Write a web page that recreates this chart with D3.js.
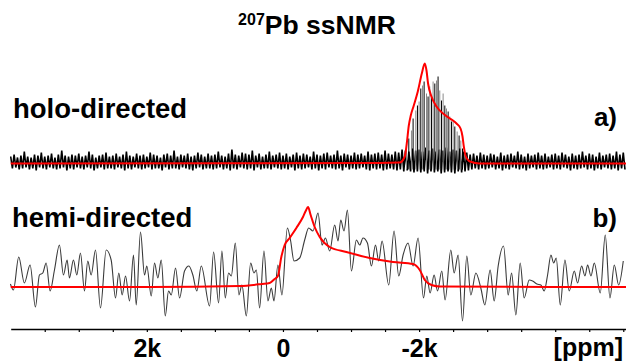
<!DOCTYPE html>
<html>
<head>
<meta charset="utf-8">
<script src="https://cdn.jsdelivr.net/npm/d3@7/dist/d3.min.js"></script>
<style>
  body { margin: 0; background: #fff; }
  text { font-family: "Liberation Sans", Arial, sans-serif; font-weight: bold; fill: #000; }
</style>
</head>
<body>
<svg id="chart" width="626" height="362"></svg>
<script>
// ---- data (ppm on x, intensity in arbitrary units above baseline) ----
// a) holo-directed : noise envelope sampled every 50 ppm from 4000 to -5000
const noiseHiA = [
  7,9,6,8,12,7,6,9,8,11,7,8,10,6,9,13,8,7,9,8,
  10,7,8,12,9,6,8,9,11,7,8,10,7,9,12,8,7,10,8,9,
  7,11,9,8,6,9,10,8,13,7,9,8,10,7,8,11,9,7,10,8,
  9,12,8,7,10,14,9,8,11,10,9,13,8,10,7,9,12,8,9,11,
  8,10,7,9,11,8,10,9,7,12,9,8,10,11,8,9,13,8,10,9,
  8,11,9,10,8,12,9,10,11,9,13,10,9,12,11,14,13,12,15,13,
  14,12,16,13,15,12,14,13,16,12,14,13,15,12,11,9,10,8,11,9,
  8,10,9,7,11,8,9,10,8,12,9,7,10,8,9,11,8,10,7,9,
  10,8,11,9,7,10,8,9,12,8,10,9,7,11,8,9,10,8,12,9,11];
const noiseLoA = [
  -5,-4,-6,-5,-4,-6,-5,-7,-4,-5,-6,-4,-5,-6,-5,-4,-7,-5,-6,-4,
  -5,-6,-4,-5,-7,-5,-4,-6,-5,-5,-6,-4,-5,-7,-5,-6,-4,-5,-6,-5,
  -4,-6,-5,-5,-7,-4,-6,-5,-5,-6,-4,-5,-6,-7,-5,-4,-6,-5,-5,-6,
  -5,-4,-6,-5,-7,-5,-6,-4,-5,-6,-5,-7,-4,-6,-5,-5,-6,-4,-5,-6,
  -5,-6,-4,-7,-5,-6,-5,-4,-6,-5,-7,-5,-6,-4,-5,-6,-5,-7,-4,-6,
  -5,-6,-5,-4,-6,-7,-5,-6,-5,-7,-6,-5,-6,-7,-6,-8,-7,-8,-9,-8,
  -9,-8,-10,-8,-9,-8,-10,-9,-8,-9,-10,-8,-9,-8,-7,-6,-5,-6,-5,-6,
  -5,-4,-6,-5,-7,-5,-6,-4,-5,-6,-5,-7,-5,-4,-6,-5,-6,-5,-4,-6,
  -5,-6,-4,-5,-7,-5,-6,-5,-4,-6,-5,-7,-5,-6,-4,-5,-6,-5,-7,-5,-6];
const noisePpmA = d3.range(4000, -5001, -50);

// a) sharp lines inside the powder pattern
const stickPpm = [-1815,-1849,-1888,-1912,-1952,-1976,-2000,-2025,-2050,-2074,-2109,-2132,-2157,-2182,-2206,-2231,
  -2256,-2279,-2304,-2329,-2353,-2378,-2403,-2427,-2451,-2476,-2500,-2525,-2559,-2588,-2613,-2638];
const stickInt = [13,25,33,45,53,58,62,75,78,82,70,67,77,68,82,80,83,87,73,63,70,58,55,52,47,42,42,37,32,28,23,15];

// a) simulated line shape (red)
const simPpmA = [4000,-1400,-1716,-1790,-1819,-1849,-1878,-1922,-1981,-2040,-2084,-2109,-2132,-2182,-2256,-2353,-2453,-2550,-2609,-2638,-2657,-2687,-2746,-2893,-5040];
const simIntA = [0,0.5,1,7,20,38,48,58,72,90,100,93,80,67,57,50,45,40,35,27,17,7,2,0,0];

// b) hemi-directed : measured spectrum
const expPpmB = [4004,3960,3882,3799,3715,3637,3578,3529,3479,3421,3357,3284,3225,3171,3137,3078,3029,2975,2916,2868,
  2818,2754,2681,2597,2524,2460,2412,2362,2313,2254,2196,2156,2093,2034,2000,1935,1887,1838,1788,1729,
  1681,1641,1578,1519,1446,1382,1324,1265,1200,1078,1019,946,897,847,799,759,700,647,603,538,
  475,426,391,343,279,221,171,132,74,15,-65,-113,-162,-246,-319,-378,-441,-515,-574,-624,
  -687,-760,-809,-849,-897,-947,-1006,-1079,-1128,-1176,-1241,-1300,-1359,-1407,-1456,-1554,-1632,-1701,-1765,-1838,
  -1912,-1985,-2065,-2113,-2162,-2221,-2271,-2334,-2382,-2466,-2515,-2574,-2638,-2701,-2760,-2834,-2907,-2966,-3044,-3103,
  -3162,-3241,-3309,-3359,-3422,-3485,-3544,-3618,-3668,-3731,-3790,-3838,-3888,-3937,-3977,-4015,-4074,-4143,-4206,-4280,
  -4329,-4388,-4437,-4476,-4525,-4574,-4662,-4735,-4804,-4868,-4932,-5000];
const expIntB = [3,-3,30,4,22,-20,12,14,24,-4,17,42,12,27,9,27,12,34,-4,26,
  12,37,-21,37,27,-11,14,-8,11,-14,32,-18,55,12,21,-9,24,9,27,-29,
  -4,-8,19,-11,16,21,12,-4,21,-19,35,-16,36,-11,14,11,44,-8,2,-29,
  24,14,17,-21,36,-14,-1,-14,22,-8,59,46,26,29,47,59,56,74,42,49,
  36,62,46,67,56,77,16,47,42,49,44,21,42,26,46,2,56,11,32,44,
  21,49,-11,11,-6,12,-4,16,-13,37,14,32,-34,31,-8,14,-1,-18,17,-14,
  21,41,-8,14,-28,24,-11,7,6,3,2,-4,12,32,24,29,-18,27,-4,16,
  4,21,11,22,11,24,-6,52,-11,22,2,26];

// b) simulated line shape (red)
const simPpmB = [4000,1960,637,313,196,122,74,24,-25,-98,-197,-294,-334,-368,-407,-466,-540,-687,-932,-1275,-1618,-1912,-2010,-2084,-2182,-2304,-5040];
const simIntB = [0,0,1,3,4,8,11,30,42,49,59,70,76,80,72,60,50,40,35,29,25,23,17,7,2,0.5,0];

const axisTicks = d3.range(3500, -5001, -500);
const tickLabels = { "2000": "2k", "0": "0", "-2000": "-2k" };

// ---- drawing ----
const svg = d3.select("#chart");
svg.append("rect").attr("width", 626).attr("height", 362).attr("fill", "#fff");

const x = d3.scaleLinear().domain([4000, -5040]).range([10.7, 626]);
const yA = d3.scaleLinear().domain([0, 100]).range([163.5, 63.5]);
const yB = d3.scaleLinear().domain([0, 100]).range([287, 187]);

// title
const title = svg.append("text").attr("x", 317).attr("y", 34).attr("text-anchor", "middle");
title.append("tspan").attr("font-size", 16).attr("dy", -9).text("207");
title.append("tspan").attr("font-size", 26.5).attr("dy", 9).text("Pb ssNMR");

// panel labels
svg.append("text").attr("x", 13).attr("y", 118).attr("font-size", 27.5).text("holo-directed");
svg.append("text").attr("x", 617).attr("y", 126).attr("font-size", 26).attr("text-anchor", "end").text("a)");
svg.append("text").attr("x", 12).attr("y", 227).attr("font-size", 27.5).text("hemi-directed");
svg.append("text").attr("x", 617).attr("y", 227).attr("font-size", 26).attr("text-anchor", "end").text("b)");

// a) noise as a dense zigzag
const zig = [];
noisePpmA.forEach((p, i) => {
  zig.push([p, noiseHiA[i]]);
  zig.push([p - 25, noiseLoA[i]]);
});
svg.append("path")
  .attr("d", d3.line().x(d => x(d[0])).y(d => yA(d[1]))(zig))
  .attr("fill", "none").attr("stroke", "#000").attr("stroke-width", 1.6);

// a) sticks
svg.append("g").selectAll("line")
  .data(stickPpm)
  .join("line")
  .attr("x1", d => x(d)).attr("x2", d => x(d))
  .attr("y1", yA(-6)).attr("y2", (d, i) => yA(stickInt[i]))
  .attr("stroke", (d, i) => i % 2 ? "#000" : "#8a8a8a")
  .attr("stroke-width", 1);

// a) simulation
svg.append("path")
  .attr("d", d3.line().x((d, i) => x(d)).y((d, i) => yA(simIntA[i])).curve(d3.curveMonotoneX)(simPpmA))
  .attr("fill", "none").attr("stroke", "#ff0000").attr("stroke-width", 2);

// b) experiment
svg.append("path")
  .attr("d", d3.line().x((d, i) => x(d)).y((d, i) => yB(expIntB[i])).curve(d3.curveMonotoneX)(expPpmB))
  .attr("fill", "none").attr("stroke", "#3a3a3a").attr("stroke-width", 1.1);

// b) simulation
svg.append("path")
  .attr("d", d3.line().x((d, i) => x(d)).y((d, i) => yB(simIntB[i])).curve(d3.curveMonotoneX)(simPpmB))
  .attr("fill", "none").attr("stroke", "#ff0000").attr("stroke-width", 2);

// ppm axis
const axis = svg.append("g")
  .attr("transform", "translate(0,329)")
  .call(d3.axisBottom(x)
    .tickValues(axisTicks)
    .tickSize(3)
    .tickSizeOuter(0)
    .tickPadding(7)
    .tickFormat(d => tickLabels[d] || ""));
axis.select(".domain").attr("stroke", "#000").attr("stroke-width", 1.5);
axis.selectAll(".tick line").attr("stroke", "#000").attr("stroke-width", 1.2);
axis.selectAll(".tick text")
  .attr("font-size", 25)
  .attr("font-family", "'Liberation Sans', Arial, sans-serif")
  .attr("font-weight", "bold")
  .attr("fill", "#000");
svg.append("text").attr("x", 623).attr("y", 356).attr("font-size", 25).attr("text-anchor", "end").text("[ppm]");
</script>
</body>
</html>
